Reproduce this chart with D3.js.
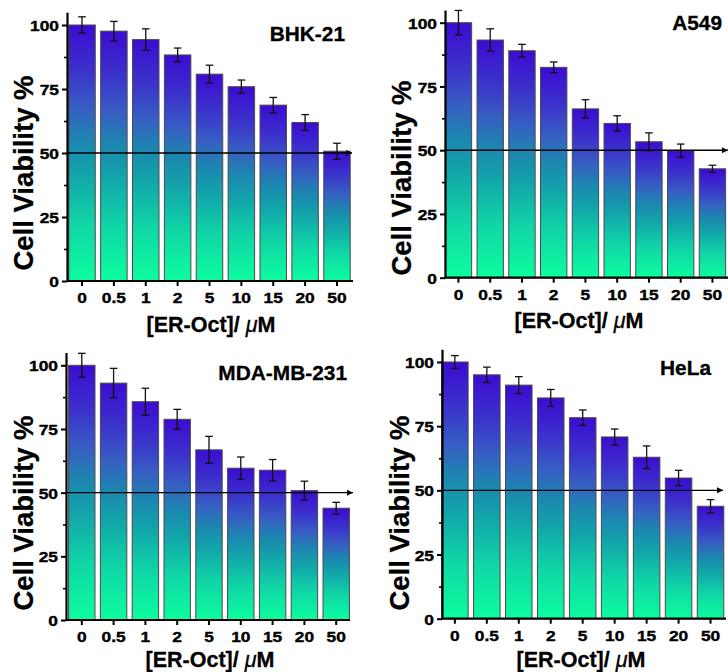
<!DOCTYPE html>
<html>
<head>
<meta charset="utf-8">
<script src="https://cdn.jsdelivr.net/npm/d3@7"></script>
<style>
  html, body { margin: 0; padding: 0; background: #fff; }
  svg { display: block; }
  text { font-family: "Liberation Sans", Arial, sans-serif; font-weight: bold; fill: #000; }
</style>
</head>
<body>
<svg id="chart" width="728" height="672"></svg>
<script>
// ---- Data ----
const categories = ["0", "0.5", "1", "2", "5", "10", "15", "20", "50"];
const panelTitles = ["BHK-21", "A549", "MDA-MB-231", "HeLa"];
const yTickValues = [0, 25, 50, 75, 100];
const yMinorTickValues = [12.5, 37.5, 62.5, 87.5];
const thresholdValue = 50;

const bhkValues   = [100, 97.6, 94.3, 88.3, 80.8, 75.9, 68.7, 61.9, 50.7];
const bhkErrors   = [3.2, 3.8, 4.2, 2.7, 3.5, 2.6, 3.0, 3.1, 3.1];
const a549Values  = [100, 93.2, 89.0, 82.5, 66.2, 60.5, 53.3, 49.8, 42.7];
const a549Errors  = [4.8, 4.4, 2.5, 2.1, 3.6, 3.0, 3.5, 2.6, 1.4];
const mdaValues   = [100, 93.0, 85.7, 78.8, 66.8, 59.6, 58.8, 50.8, 43.9];
const mdaErrors   = [4.7, 5.8, 5.3, 3.9, 5.3, 4.4, 4.2, 3.7, 2.3];
const helaValues  = [100, 95.0, 91.0, 86.0, 78.3, 70.8, 62.9, 54.8, 43.8];
const helaErrors  = [2.5, 3.0, 3.3, 3.3, 3.0, 3.1, 4.4, 3.0, 2.6];

const seriesValues = [bhkValues, a549Values, mdaValues, helaValues];
const seriesErrors = [bhkErrors, a549Errors, mdaErrors, helaErrors];

// ---- Layout (positions only) ----
const layouts = [
  { axisX: 67,  x0: 67.2,  x1: 351.8, y0: 281,   y100: 25,    xEnd: 353, arrowEnd: 352,
    titleX: 345, titleY: 40.5, yLabX: 33,  yLabY: 173, xLabX: 211, xLabY: 332 },
  { axisX: 445, x0: 443.7, x1: 727.2, y0: 277.7, y100: 22.7,  xEnd: 729, arrowEnd: 728,
    titleX: 722, titleY: 29.5, yLabX: 411, yLabY: 178, xLabX: 579, xLabY: 328 },
  { axisX: 66,  x0: 67,    x1: 351,   y0: 620,   y100: 365.3, xEnd: 350, arrowEnd: 353,
    titleX: 347, titleY: 380, yLabX: 33,  yLabY: 513, xLabX: 210, xLabY: 666.5 },
  { axisX: 442, x0: 440,   x1: 725.4, y0: 618.7, y100: 362,   xEnd: 726, arrowEnd: 723,
    titleX: 711, titleY: 375, yLabX: 409, yLabY: 513, xLabX: 581, xLabY: 666.5 }
];

const tickFont = 15.5;
const tickStretch = 1.12;

const svg = d3.select("#chart");
const defs = svg.append("defs");

const grad = defs.append("linearGradient")
  .attr("id", "barGrad")
  .attr("x1", 0).attr("y1", 0).attr("x2", 0).attr("y2", 1);
[
  [0, "#3c0bd2"], [0.18, "#3b33cb"], [0.33, "#3660c2"], [0.45, "#1c86b0"],
  [0.58, "#12a4aa"], [0.78, "#10d6a6"], [1, "#0cfe9e"]
].forEach(([o, c]) => grad.append("stop").attr("offset", o).attr("stop-color", c));

defs.append("marker")
  .attr("id", "arrow")
  .attr("viewBox", "0 0 10 10")
  .attr("refX", 10).attr("refY", 5)
  .attr("markerWidth", 9).attr("markerHeight", 6)
  .attr("markerUnits", "userSpaceOnUse")
  .attr("orient", "auto")
  .append("path").attr("d", "M0,0 L10,5 L0,10 Z").attr("fill", "#000");

layouts.forEach((L, pi) => {
  const values = seriesValues[pi];
  const errors = seriesErrors[pi];
  const data = categories.map((c, i) => ({ c, v: values[i], e: errors[i] }));

  const unit = (L.y0 - L.y100) / 100;
  const y = d3.scaleLinear().domain([0, 105]).range([L.y0, L.y0 - 105 * unit]);
  const x = d3.scaleBand().domain(categories).range([L.x0, L.x1])
    .paddingInner(0.17).paddingOuter(0.05);

  const g = svg.append("g");

  // bars
  g.selectAll("rect.bar").data(data).enter().append("rect")
    .attr("class", "bar")
    .attr("x", d => x(d.c))
    .attr("width", x.bandwidth())
    .attr("y", d => y(d.v))
    .attr("height", d => y(0) - y(d.v))
    .attr("fill", "url(#barGrad)")
    .attr("stroke", "#4a4a4a")
    .attr("stroke-width", 1);

  // 50% line with arrow
  g.append("line")
    .attr("x1", L.axisX).attr("x2", L.arrowEnd)
    .attr("y1", y(thresholdValue)).attr("y2", y(thresholdValue))
    .attr("stroke", "#000").attr("stroke-width", 1.4)
    .attr("marker-end", "url(#arrow)");

  // error bars
  const eb = g.selectAll("g.err").data(data).enter().append("g").attr("class", "err")
    .attr("stroke", "#111").attr("stroke-width", 1.3);
  const cx = d => x(d.c) + x.bandwidth() / 2;
  eb.append("line").attr("x1", cx).attr("x2", cx)
    .attr("y1", d => y(d.v + d.e)).attr("y2", d => y(d.v - d.e));
  eb.append("line").attr("x1", d => cx(d) - 3.8).attr("x2", d => cx(d) + 3.8)
    .attr("y1", d => y(d.v + d.e)).attr("y2", d => y(d.v + d.e));
  eb.append("line").attr("x1", d => cx(d) - 3.8).attr("x2", d => cx(d) + 3.8)
    .attr("y1", d => y(d.v - d.e)).attr("y2", d => y(d.v - d.e));

  // y axis
  const yAxisG = g.append("g").attr("transform", `translate(${L.axisX},0)`)
    .call(d3.axisLeft(y).tickValues(yTickValues).tickSize(5).tickSizeOuter(0).tickPadding(3));
  yAxisG.select(".domain").attr("stroke-width", 2.2);
  yAxisG.selectAll(".tick line").attr("stroke-width", 2);
  yAxisG.selectAll(".tick text")
    .style("font-size", tickFont + "px")
    .attr("x", -8 / tickStretch).attr("dy", "0.36em")
    .attr("transform", `scale(${tickStretch},1)`)
    .attr("stroke", "#000").attr("stroke-width", 0.4);

  const yMinorG = g.append("g").attr("transform", `translate(${L.axisX},0)`)
    .call(d3.axisLeft(y).tickValues(yMinorTickValues).tickSize(3).tickFormat(""));
  yMinorG.select(".domain").remove();
  yMinorG.selectAll(".tick line").attr("stroke-width", 1.6);

  // x axis
  const xAxisG = g.append("g").attr("transform", `translate(0,${L.y0})`)
    .call(d3.axisBottom(x).tickSize(5).tickSizeOuter(0));
  xAxisG.select(".domain").attr("d", `M${L.axisX},0H${L.xEnd}`).attr("stroke-width", 2.2);
  xAxisG.selectAll(".tick line").attr("stroke-width", 2);
  xAxisG.selectAll(".tick text")
    .style("font-size", tickFont + "px")
    .attr("dy", null).attr("y", 22.5)
    .attr("transform", `scale(${tickStretch},1)`)
    .attr("stroke", "#000").attr("stroke-width", 0.4);

  // panel title
  g.append("text")
    .attr("transform", `translate(${L.titleX},${L.titleY}) scale(1.07,1)`)
    .attr("text-anchor", "end").style("font-size", "19.5px")
    .attr("stroke", "#000").attr("stroke-width", 0.3)
    .text(panelTitles[pi]);

  // y label
  g.append("text")
    .attr("transform", `translate(${L.yLabX},${L.yLabY}) rotate(-90)`)
    .attr("text-anchor", "middle").style("font-size", "27.5px")
    .attr("stroke", "#000").attr("stroke-width", 0.3)
    .text("Cell Viability %");

  // x label
  const xl = g.append("text").attr("x", L.xLabX).attr("y", L.xLabY)
    .attr("text-anchor", "middle").style("font-size", "21.5px")
    .attr("stroke", "#000").attr("stroke-width", 0.3);
  xl.append("tspan").text("[ER-Oct]/ ");
  xl.append("tspan").style("font-style", "italic").style("font-weight", "normal").text("\u03bc");
  xl.append("tspan").text("M");
});
</script>
</body>
</html>
